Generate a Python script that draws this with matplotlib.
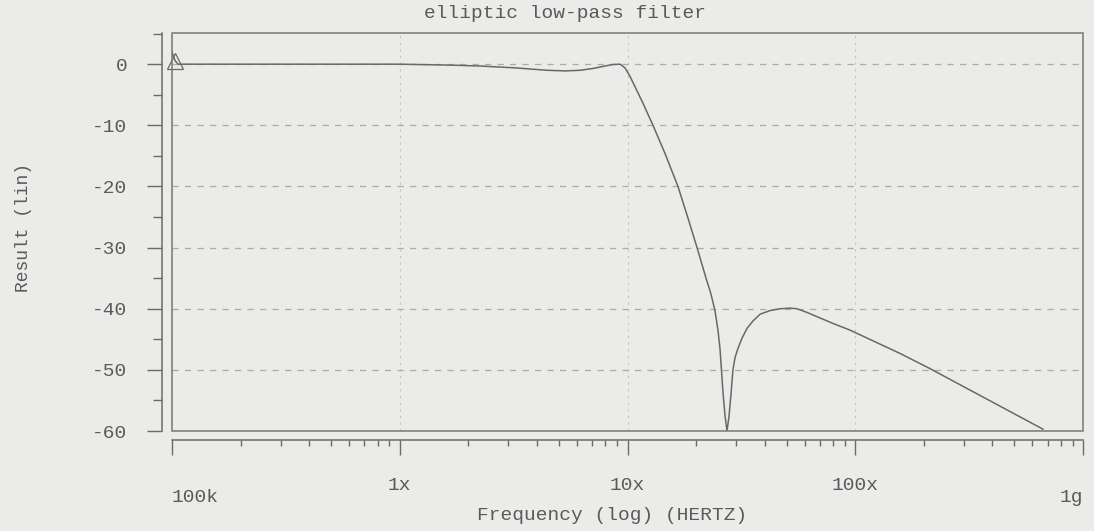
import numpy as np
import matplotlib
matplotlib.use("Agg")
import matplotlib.pyplot as plt
from matplotlib.patches import Rectangle
from matplotlib.ticker import MultipleLocator, LogLocator, NullFormatter, FixedLocator, FixedFormatter
import matplotlib.transforms as mtransforms

plt.rcParams["axes.unicode_minus"] = False

# frequency response (Hz, dB)
freq = [1.0e5, 1.03e5, 1.063e5, 3.65e5, 1.0e6, 1.663e6, 2.25e6, 3.206e6, 4.44e6,
        5.32e6, 6.18e6, 7.06e6, 7.96e6, 8.63e6, 9.27e6, 9.75e6, 1.026e7, 1.089e7,
        1.170e7, 1.230e7, 1.294e7, 1.461e7, 1.666e7, 1.844e7, 2.020e7, 2.212e7,
        2.326e7, 2.421e7, 2.496e7, 2.547e7, 2.625e7, 2.680e7, 2.735e7, 2.792e7,
        2.847e7, 2.904e7, 2.965e7, 3.055e7, 3.184e7, 3.350e7, 3.556e7, 3.819e7,
        4.227e7, 4.677e7, 5.164e7, 5.546e7, 6.138e7, 6.792e7, 7.980e7, 9.484e7,
        1.57e8, 2.13e8, 6.67e8]
gain = [2.0, 0.6, 0.0, 0.0, 0.0, -0.15, -0.3, -0.6, -1.0,
        -1.1, -1.0, -0.7, -0.3, -0.05, 0.0, -0.6, -2.0, -4.0,
        -6.4, -8.2, -10.0, -14.6, -20.0, -25.2, -30.0, -35.0,
        -37.6, -40.3, -43.5, -46.5, -53.6, -57.5, -60.0, -57.5,
        -54.0, -50.0, -48.0, -46.5, -44.8, -43.2, -42.0, -40.9,
        -40.3, -40.0, -39.9, -40.0, -40.6, -41.3, -42.4, -43.5,
        -47.3, -49.8, -59.7]

marker_f = [1.035e5]
marker_db = [0.6]

yticks = [0, -10, -20, -30, -40, -50, -60]
xticks = [1e6, 1e7, 1e8]
xticklabels = ["1x", "10x", "100x"]
end_labels = ["100k", "1g"]

bg = "#ebebe9"
ink = "#5a5a5a"
mono = "Liberation Mono"
fs = 14

fig = plt.figure(figsize=(10.94, 5.31), dpi=100, facecolor=bg)
ax = fig.add_axes([172/1094, 1-431/531, (1083-172)/1094, (431-33)/531])
ax.set_facecolor(bg)

ax.set_xscale("log")
ax.set_xlim(1e5, 1e9)
ax.set_ylim(-60.0, 5.1)

ax.plot(freq, gain, color="#686868", lw=1.1, zorder=3)
ax.plot(marker_f, marker_db, marker="^", ms=11, mfc="none", mec="#686868", mew=0.9,
        ls="none", zorder=3, clip_on=False)

# frame
ax.add_patch(Rectangle((0, 0), 1, 1, transform=ax.transAxes, fill=False,
                       ec="#777777", lw=1.1, zorder=4, clip_on=False))
for s in ["top", "right"]:
    ax.spines[s].set_visible(False)
ax.spines["left"].set_position(("outward", 7.2))
ax.spines["bottom"].set_position(("outward", 6.5))
for s in ["left", "bottom"]:
    ax.spines[s].set_color("#6a6a6a")
    ax.spines[s].set_linewidth(1.1)

# y axis
ax.yaxis.set_major_locator(FixedLocator(yticks))
ax.yaxis.set_minor_locator(MultipleLocator(5))
ax.tick_params(axis="y", which="major", length=10.8, width=1.0, color="#6a6a6a",
               labelsize=fs, labelcolor=ink, pad=14)
ax.tick_params(axis="y", which="minor", length=6.5, width=1.0, color="#6a6a6a")
for lab in ax.get_yticklabels():
    lab.set_family(mono)

# x axis
ax.xaxis.set_major_locator(FixedLocator([1e5] + xticks + [1e9]))
ax.xaxis.set_major_formatter(FixedFormatter([""] + xticklabels + [""]))
ax.xaxis.set_minor_locator(LogLocator(base=10, subs=np.arange(2, 10), numticks=20))
ax.xaxis.set_minor_formatter(NullFormatter())
ax.tick_params(axis="x", which="major", length=10.8, width=1.0, color="#6a6a6a",
               labelsize=fs, labelcolor=ink, pad=16)
ax.tick_params(axis="x", which="minor", length=4.5, width=1.0, color="#6a6a6a")
for lab in ax.get_xticklabels():
    lab.set_family(mono)

trans = mtransforms.blended_transform_factory(ax.transData, fig.transFigure)
ax.text(1e5, 1-497/531, end_labels[0], transform=trans, ha="left", va="center",
        family=mono, fontsize=fs, color=ink)
ax.text(1e9, 1-497/531, end_labels[1], transform=trans, ha="right", va="center",
        family=mono, fontsize=fs, color=ink)

# grid
ax.yaxis.grid(True, which="major", color="#ababab", lw=0.9, ls=(0, (5, 5)), zorder=1)
ax.xaxis.grid(True, which="major", color="#c4c4c4", lw=0.8, ls=(0, (2, 4)), zorder=1)

fig.text(565/1094, 1-14/531, "elliptic low-pass filter", ha="center", va="center",
         family=mono, fontsize=fs, color=ink)
fig.text(612/1094, 1-516/531, "Frequency (log) (HERTZ)", ha="center", va="center",
         family=mono, fontsize=fs, color=ink)
fig.text(24/1094, 1-228/531, "Result (lin)", ha="center", va="center", rotation=90,
         family=mono, fontsize=13, color=ink)

plt.savefig("out.png", dpi=100, facecolor=bg)
plt.close()
